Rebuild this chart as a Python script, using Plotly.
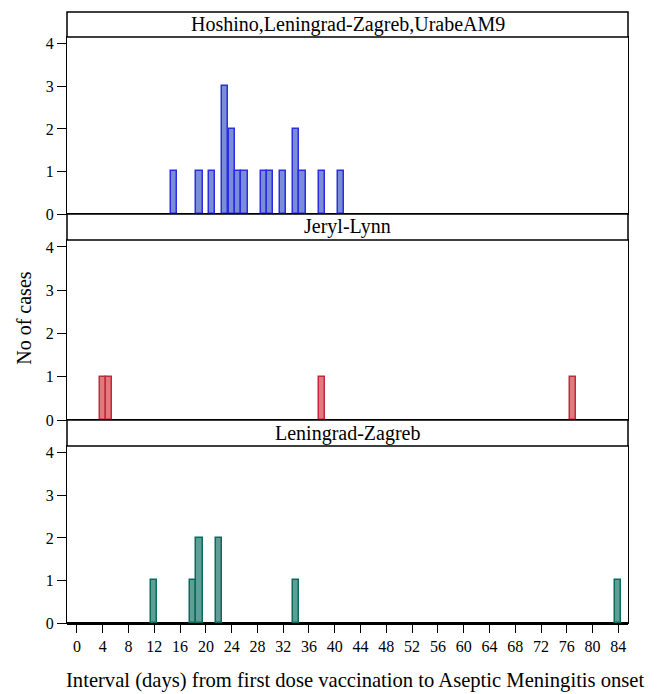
import plotly.graph_objects as go

panel_titles = ["Hoshino,Leningrad-Zagreb,UrabeAM9", "Jeryl-Lynn", "Leningrad-Zagreb"]

days_hlu = [15, 19, 21, 23, 24, 25, 26, 29, 30, 32, 34, 35, 38, 41]
cases_hlu = [1, 1, 1, 3, 2, 1, 1, 1, 1, 1, 2, 1, 1, 1]

days_jl = [4, 5, 38, 77]
cases_jl = [1, 1, 1, 1]

days_lz = [12, 18, 19, 22, 34, 84]
cases_lz = [1, 1, 2, 2, 1, 1]

x_ticks = list(range(0, 85, 4))
y_ticks = [0, 1, 2, 3, 4]

fills = ["#7b8dd6", "#e07a7c", "#5e9e94"]
edges = ["#2a2ee0", "#c4283e", "#0b6a5c"]

series = [(days_hlu, cases_hlu), (days_jl, cases_jl), (days_lz, cases_lz)]

FONT = "Times New Roman, Liberation Serif, serif"
H = 611.0
def py(px):
    return (623 - px) / H

plot_domains = [(py(214), py(37)), (py(420), py(240)), (py(623), py(446))]
strip_domains = [(py(37), py(12)), (py(240), py(214)), (py(446), py(420))]

fig = go.Figure()
for i, (d, c) in enumerate(series):
    n = "" if i == 0 else str(i + 1)
    fig.add_trace(go.Bar(
        x=d, y=c, width=0.95,
        marker=dict(color=fills[i], line=dict(color=edges[i], width=1.5)),
        xaxis="x" + n, yaxis="y" + n, showlegend=False,
    ))

layout = dict(
    width=654, height=686,
    margin=dict(l=59, r=34, t=4, b=71),
    plot_bgcolor="white", paper_bgcolor="white",
    font=dict(family=FONT, size=16, color="black"),
    bargap=0,
)
for i in range(3):
    n = "" if i == 0 else str(i + 1)
    last = i == 2
    layout["xaxis" + n] = dict(
        range=[-1.55, 85.5], anchor="y" + n, automargin=False,
        showline=True, linecolor="black", linewidth=1, mirror=True,
        showgrid=False, zeroline=False,
        tickvals=x_ticks if last else [],
        ticks="outside" if last else "", ticklen=9, tickcolor="black",
        showticklabels=last,
        tickfont=dict(family=FONT, size=16),
        matches=None if i == 0 else "x",
    )
    layout["yaxis" + n] = dict(
        domain=list(plot_domains[i]), anchor="x" + n, automargin=False,
        range=[0, 4.16], tickvals=y_ticks,
        ticks="outside", ticklen=9, tickcolor="black",
        showline=True, linecolor="black", linewidth=1, mirror=True,
        showgrid=False, zeroline=True, zerolinecolor="black", zerolinewidth=2.5,
        tickfont=dict(family=FONT, size=16),
    )
fig.update_layout(**layout)

shapes = []
annotations = []
for i in range(3):
    y0, y1 = strip_domains[i]
    shapes.append(dict(type="rect", xref="paper", yref="paper", x0=0, x1=1, y0=y0, y1=y1,
                       line=dict(color="black", width=1.5), fillcolor="white", layer="above"))
    annotations.append(dict(text=panel_titles[i], xref="paper", yref="paper", x=0.5, y=(y0 + y1) / 2,
                            showarrow=False, font=dict(family=FONT, size=20), yanchor="middle"))
annotations.append(dict(text="No of cases", xref="paper", yref="paper", x=-0.078, y=0.5,
                        textangle=-90, showarrow=False, font=dict(family=FONT, size=20),
                        xanchor="center", yanchor="middle"))
annotations.append(dict(text="Interval (days) from first dose vaccination to Aseptic Meningitis onset",
                        xref="paper", yref="paper", x=0.514, y=py(680.5), showarrow=False,
                        font=dict(family=FONT, size=20.6), xanchor="center", yanchor="middle"))
fig.update_layout(shapes=shapes, annotations=annotations)

fig.write_html("out.html")
